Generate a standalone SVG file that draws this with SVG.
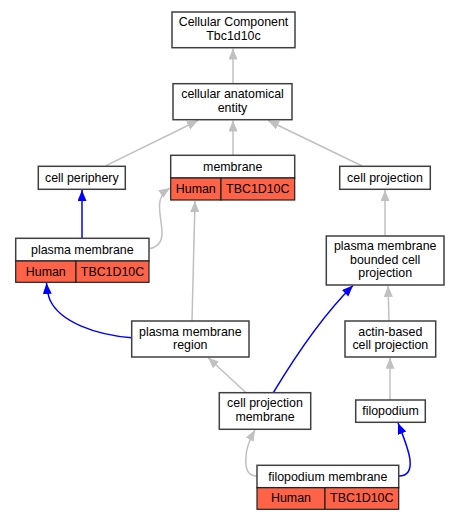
<svg xmlns="http://www.w3.org/2000/svg" width="460" height="520" viewBox="0 0 460 520">
<style>
.box{fill:#fff;stroke:#404040;stroke-width:1.5}
.hl{fill:#ff6347;stroke:#202020;stroke-width:1.2}
text{font-family:"Liberation Sans",Arial,sans-serif;font-size:12.4px;fill:#000;text-anchor:middle}
.g{fill:none;stroke:#c0c0c0;stroke-width:1.5}
.b{fill:none;stroke:#0000ff;stroke-width:1.5}
</style>
<defs>
<marker id="ag" markerUnits="userSpaceOnUse" markerWidth="12" markerHeight="10" refX="11" refY="4.5" orient="auto"><path d="M0,0 L11,4.5 L0,9 z" fill="#c0c0c0"/></marker>
<marker id="ab" markerUnits="userSpaceOnUse" markerWidth="12" markerHeight="10" refX="11" refY="4.5" orient="auto"><path d="M0,0 L11,4.5 L0,9 z" fill="#0000ff"/></marker>
</defs>
<rect width="460" height="520" fill="#fff"/>
<g id="edges">
<path class="g" marker-end="url(#ag)" d="M233,83.7 L233,48.5"/>
<path class="g" marker-end="url(#ag)" d="M106,165.7 L198,120.5"/>
<path class="g" marker-end="url(#ag)" d="M233,155.3 L233,120.5"/>
<path class="g" marker-end="url(#ag)" d="M361.7,165.7 L268,120.5"/>
<path class="b" marker-end="url(#ab)" d="M82,238.3 L82,190"/>
<path class="g" marker-end="url(#ag)" d="M150,248.5 C157,247 162,243 162,233 C162,222 158,210 160,201 C161,196 164,192 170,188"/>
<path class="g" marker-end="url(#ag)" d="M192,321 L195,201"/>
<path class="b" marker-end="url(#ab)" d="M131.7,337.7 C96,335 60,322 50,300 C48,295 47,290 46.5,283"/>
<path class="g" marker-end="url(#ag)" d="M246,392.7 L208,357.5"/>
<path class="b" marker-end="url(#ab)" d="M273.3,392.7 C290,365 320,318 353,285.5"/>
<path class="g" marker-end="url(#ag)" d="M385,236 L385,190"/>
<path class="g" marker-end="url(#ag)" d="M389,321 L388,285.8"/>
<path class="g" marker-end="url(#ag)" d="M390,400 L390,357.8"/>
<path class="g" marker-end="url(#ag)" d="M257,476 C247,476 245,468 246,457 C246,447 250,439 255,430"/>
<path class="b" marker-end="url(#ab)" d="M398.7,476 C408,476 411,470 410,460 C409,450 404,438 398,423"/>
</g>
<g id="n_cc">
<rect class="box" x="172" y="12" width="123" height="35.7"/>
<text x="233.5" y="26.2">Cellular Component</text>
<text x="233.5" y="40.1">Tbc1d10c</text>
</g>
<g id="n_cae">
<rect class="box" x="173" y="83.7" width="119" height="36"/>
<text x="232.5" y="98.2">cellular anatomical</text>
<text x="232.5" y="112.1">entity</text>
</g>
<g id="n_periphery">
<rect class="box" x="38.3" y="166.3" width="87" height="23"/>
<text x="81.8" y="181.5">cell periphery</text>
</g>
<g id="n_membrane">
<rect class="box" x="170.7" y="155.3" width="124" height="22.7"/>
<text x="232.7" y="170.5">membrane</text>
<rect class="hl" x="170.7" y="178" width="50.3" height="22"/>
<rect class="hl" x="221" y="178" width="73.7" height="22"/>
<text x="195.8" y="193">Human</text>
<text x="257.8" y="193">TBC1D10C</text>
</g>
<g id="n_cellproj">
<rect class="box" x="339.7" y="166.3" width="90.6" height="23"/>
<text x="385" y="181.5">cell projection</text>
</g>
<g id="n_pm">
<rect class="box" x="15.7" y="238.3" width="133.3" height="22.7"/>
<text x="82.3" y="253.5">plasma membrane</text>
<rect class="hl" x="15.7" y="261" width="60.3" height="21.3"/>
<rect class="hl" x="76" y="261" width="73" height="21.3"/>
<text x="45.8" y="275.5">Human</text>
<text x="112.5" y="275.5">TBC1D10C</text>
</g>
<g id="n_pmbcp">
<rect class="box" x="326.3" y="236" width="117.7" height="49"/>
<text x="385.2" y="249.6">plasma membrane</text>
<text x="385.2" y="263.5">bounded cell</text>
<text x="385.2" y="277.4">projection</text>
</g>
<g id="n_pmr">
<rect class="box" x="131.7" y="321" width="117.3" height="36"/>
<text x="190.3" y="335.5">plasma membrane</text>
<text x="190.3" y="349.4">region</text>
</g>
<g id="n_actin">
<rect class="box" x="345" y="321" width="90.7" height="36"/>
<text x="390.3" y="335.5">actin-based</text>
<text x="390.3" y="349.4">cell projection</text>
</g>
<g id="n_cpm">
<rect class="box" x="219.3" y="392.7" width="91.4" height="36.6"/>
<text x="265" y="407.3">cell projection</text>
<text x="265" y="421.2">membrane</text>
</g>
<g id="n_filopodium">
<rect class="box" x="355.7" y="400" width="69.6" height="22.3"/>
<text x="390.5" y="415.2">filopodium</text>
</g>
<g id="n_fm">
<rect class="box" x="257" y="465.3" width="141.7" height="22.4"/>
<text x="327.8" y="480.5">filopodium membrane</text>
<rect class="hl" x="257" y="487.7" width="68" height="21.6"/>
<rect class="hl" x="325" y="487.7" width="73.7" height="21.6"/>
<text x="291" y="502.3">Human</text>
<text x="361.8" y="502.3">TBC1D10C</text>
</g>
</svg>
